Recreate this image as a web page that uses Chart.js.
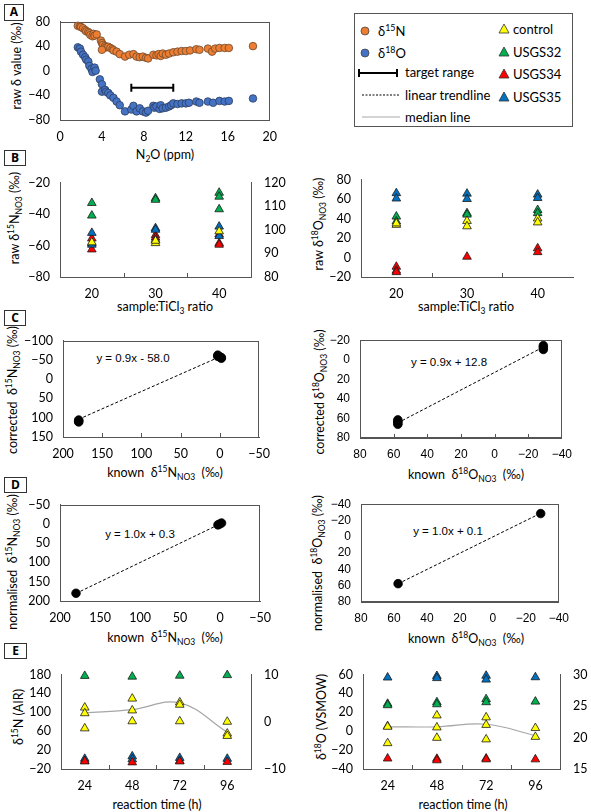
<!DOCTYPE html>
<html>
<head>
<meta charset="utf-8">
<script src="https://cdn.jsdelivr.net/npm/chart.js@4.4.1/dist/chart.umd.min.js"></script>
<style>
body{margin:0;background:#fff;width:591px;height:812px;position:relative;overflow:hidden;font-family:Lato,'Open Sans',sans-serif;color:#000}
canvas{position:absolute}
.t{position:absolute;transform:translate(-50%,-50%);white-space:nowrap;font-size:12.5px;line-height:1}
.r{transform:translate(-50%,-50%) rotate(-90deg)}
.eq{font-family:'Liberation Sans',Arial,sans-serif;font-size:11.5px}
.lab{position:absolute;border:1.5px solid #333;font:bold 12px 'Open Sans',sans-serif;text-align:center;line-height:14px;box-sizing:border-box}
sup,sub{font-size:0.68em;line-height:0}
.lg{position:absolute;font-size:13px;transform:translateY(-50%);white-space:nowrap}
#legend{position:absolute;left:354px;top:13px;width:219px;height:114px;border:1px solid #555;box-sizing:border-box}
</style>
</head>
<body>

<div class="lab" style="left:4px;top:4px;width:20px;height:17px">A</div>
<div class="lab" style="left:4px;top:150px;width:22px;height:16px">B</div>
<div class="lab" style="left:4px;top:310px;width:22px;height:16px">C</div>
<div class="lab" style="left:4px;top:477px;width:23px;height:16px">D</div>
<div class="lab" style="left:4px;top:643px;width:23px;height:16px">E</div>

<!-- legend -->
<div id="legend"></div>
<svg style="position:absolute;left:354px;top:13px" width="219" height="114">
  <circle cx="11" cy="18" r="4" fill="#ED7D31" stroke="#444" stroke-width="0.8"/>
  <circle cx="11" cy="40" r="4" fill="#4472C4" stroke="#444" stroke-width="0.8"/>
  <line x1="5" y1="60" x2="43" y2="60" stroke="#000" stroke-width="2"/>
  <line x1="5" y1="56" x2="5" y2="64" stroke="#000" stroke-width="2"/>
  <line x1="43" y1="56" x2="43" y2="64" stroke="#000" stroke-width="2"/>
  <line x1="8" y1="82" x2="46" y2="82" stroke="#000" stroke-width="1" stroke-dasharray="2,1.5"/>
  <line x1="8" y1="104" x2="46" y2="104" stroke="#aaa" stroke-width="1.2"/>
  <polygon points="150,11 155,20 145,20" fill="#FFFF00" stroke="#333" stroke-width="0.8"/>
  <polygon points="150,34 155,43 145,43" fill="#00B050" stroke="#333" stroke-width="0.8"/>
  <polygon points="150,56 155,65 145,65" fill="#FF0000" stroke="#333" stroke-width="0.8"/>
  <polygon points="150,79 155,88 145,88" fill="#0070C0" stroke="#333" stroke-width="0.8"/>
</svg>
<div class="lg" style="left:378px;top:31px">δ<sup>15</sup>N</div>
<div class="lg" style="left:378px;top:53px">δ<sup>18</sup>O</div>
<div class="lg" style="left:405px;top:72px">target range</div>
<div class="lg" style="left:405px;top:95px">linear trendline</div>
<div class="lg" style="left:405px;top:117px">median line</div>
<div class="lg" style="left:513px;top:29px">control</div>
<div class="lg" style="left:513px;top:52px">USGS32</div>
<div class="lg" style="left:513px;top:74px">USGS34</div>
<div class="lg" style="left:513px;top:97px">USGS35</div>

<!-- axis titles -->
<div class="t r" style="left:17px;top:66px">raw δ value (‰)</div>
<div class="t" style="left:165px;top:155px">N<sub>2</sub>O (ppm)</div>

<div class="t r" style="left:15px;top:218px">raw δ<sup>15</sup>N<sub>NO3</sub> (‰)</div>
<div class="t r" style="left:319px;top:224px">raw δ<sup>18</sup>O<sub>NO3</sub> (‰)</div>
<div class="t" style="left:165px;top:307px">sample:TiCl<sub>3</sub> ratio</div>
<div class="t" style="left:466px;top:307px">sample:TiCl<sub>3</sub> ratio</div>

<div class="t r" style="left:13px;top:390px">corrected&nbsp; δ<sup>15</sup>N<sub>NO3</sub> (‰)</div>
<div class="t r" style="left:320px;top:392px">corrected δ<sup>18</sup>O<sub>NO3</sub> (‰)</div>
<div class="t" style="left:165px;top:473px">known&nbsp; δ<sup>15</sup>N<sub>NO3</sub>&nbsp; (‰)</div>
<div class="t" style="left:466px;top:475px">known&nbsp; δ<sup>18</sup>O<sub>NO3</sub>&nbsp; (‰)</div>
<div class="t eq" style="left:133px;top:359px">y = 0.9x - 58.0</div>
<div class="t eq" style="left:449px;top:363px">y = 0.9x + 12.8</div>

<div class="t r" style="left:13px;top:562px">normalised&nbsp; δ<sup>15</sup>N<sub>NO3</sub> (‰)</div>
<div class="t r" style="left:318px;top:563px">normalised&nbsp; δ<sup>18</sup>O<sub>NO3</sub> (‰)</div>
<div class="t" style="left:165px;top:638px">known&nbsp; δ<sup>15</sup>N<sub>NO3</sub>&nbsp; (‰)</div>
<div class="t" style="left:466px;top:639px">known&nbsp; δ<sup>18</sup>O<sub>NO3</sub>&nbsp; (‰)</div>
<div class="t eq" style="left:140px;top:535px">y = 1.0x + 0.3</div>
<div class="t eq" style="left:448px;top:532px">y = 1.0x + 0.1</div>

<div class="t r" style="left:19px;top:717px">δ<sup>15</sup>N (AIR)</div>
<div class="t r" style="left:322px;top:717px">δ<sup>18</sup>O (VSMOW)</div>
<div class="t" style="left:157px;top:805px">reaction time (h)</div>
<div class="t" style="left:463px;top:805px">reaction time (h)</div>

<script>
// ---- A: raw delta vs N2O
const n2oN = [1.7,1.9,2.0,2.2,2.4,2.5,2.7,2.8,2.9,3.1,3.2,3.3,3.5,3.9,4.0,4.1,4.3,4.4,4.6,4.8,4.0,5.0,5.1,5.4,5.7,6.2,6.6,7.0,7.3,7.6,7.9,8.2,8.4,8.9,9.2,9.4,9.6,9.8,10.1,10.4,10.8,11.2,11.6,12.0,12.4,13.0,13.3,14.1,14.5,14.8,15.2,15.7,16.1,18.4];
const rawN  = [73,72,71,69,66,64,63,61,58,56,60,57,59,49,45,42,40,38,39,37,34,35,33,31,27,23,26,27,23,22,23,21,20,26,25,27,24,28,26,28,30,31,32,32,33,35,34,36,31,36,37,37,37,40];
const n2oO = [1.7,1.9,2.0,2.2,2.4,2.5,2.7,2.8,3.0,3.1,3.3,3.4,3.8,4.0,4.0,4.3,4.4,4.6,4.8,5.1,5.4,5.7,6.2,6.8,7.0,7.3,7.6,7.9,8.2,8.4,8.9,9.0,9.2,9.5,9.6,9.8,10.1,10.4,10.6,10.8,11.2,11.6,12.0,12.3,13.0,13.3,14.1,14.6,15.2,15.7,16.1,18.4];
const rawO  = [38,36,31,26,22,18,15,8,3,-2,5,0,-14,-22,-34,-31,-34,-36,-40,-44,-50,-56,-66,-63,-57,-66,-61,-66,-68,-65,-57,-60,-58,-62,-56,-61,-60,-58,-56,-53,-54,-53,-53,-52,-50,-52,-50,-52,-49,-50,-49,-45];
const targetX = [6.8, 10.8];
const targetY = [-27.5, -27.5];

// ---- B: raw values per sample:TiCl3 ratio
const ratios = [20, 30, 40];
const rawN_control = [[-58], [-58.5, -57], [-51]];
const rawN_usgs32  = [[-33, -41], [-30, -31], [-26.5, -29, -37]];
const rawN_usgs34  = [[-55.5, -62.5], [-53.5, -55], [-53, -58.5, -59.5]];
const rawN_usgs35  = [[-52, -58.5, -59.5], [-49, -50, -56.5], [-48, -54]];
const rawO_control = [[33.5, 35], [37.5, 32], [40, 36]];
const rawO_usgs32  = [[42, 37], [45.5, 44], [48.7, 45.5]];
const rawO_usgs34  = [[-9.5, -13.5, -15], [0.8], [9.4, 5.5]];
const rawO_usgs35  = [[66, 60.5], [65.5, 60], [64.5, 61]];

// ---- C: corrected vs known
const knownN_C = [180, 180, 180, 2.7, 2.7, -1.8, -1.8, 0.5];
const corrN    = [106, 109, 111, -62, -59, -56, -54, -58];
const trendCN_x = [180, -1.8];
const trendCN_y = [104, -59.6];
const knownO_C = [57.5, 57.5, 57.5, 57.5, -29, -29, -29];
const corrO    = [61.5, 63, 64.5, 66, -14.5, -12.5, -10.5];
const trendCO_x = [57.5, -29];
const trendCO_y = [64.5, -13];

// ---- D: normalised vs known
const knownN_D = [180, 2.7, -1.8, 0.5];
const normN    = [180, 2.7, -2, 0.5];
const trendDN_x = [180, -1.8];
const trendDN_y = [180.3, -1.5];
const knownO_D = [57.5, -29];
const normO    = [57.5, -28.5];
const trendDO_x = [57.5, -29];
const trendDO_y = [57.6, -28.9];

// ---- E: reaction time
const hours = [24, 48, 72, 96];
const eN_usgs32  = [[177], [175.5], [177.5], [178.7]];
const eN_usgs34  = [[-4], [-6], [-4], [-5]];
const eN_usgs35  = [[1.6, -3], [6.8, 0.4], [3.5, -3], [1.6]];
const eN_control = [[3.0, 1.8, -1.4], [4.9, 2.4, 0.1], [4.1, 3.6, 0.1], [0, -2.5, -3.0]];
const eN_median  = [1.9, 2.55, 4.0, -2.2];
const eO_usgs35  = [[56.8], [58.4, 56.2], [58.7, 54.6], [57.1]];
const eO_usgs32  = [[29, 27.5], [30.7, 28.5], [33.9, 30.7], [31.3]];
const eO_usgs34  = [[-28.9], [-29.2, -30.8], [-28.9, -29.8], [-29.8]];
const eO_control = [[21.8, 21.7, 19.1], [23.5, 21.6, 19.95], [23.2, 22.0, 19.7], [21.5, 20.1]];
const eO_median  = [21.7, 21.7, 22.1, 20.3];

const AX = '#555';
const YELLOW = '#FFFF00', GREEN = '#00B050', RED = '#FF0000', TBLUE = '#0070C0';
const ORANGE = '#ED7D31', CBLUE = '#4472C4';

Chart.defaults.animation = false;
Chart.defaults.plugins.legend.display = false;
Chart.defaults.plugins.tooltip.enabled = false;

function pts(xs, ys) { return xs.map((x, i) => ({x: x, y: ys[i]})); }
function catPts(cats, groups) { return groups.flatMap((g, i) => g.map(y => ({x: cats[i], y: y}))); }
function fmt(v) { return v < 0 ? '\u2212' + Math.abs(v) : String(v); }

function tri(color, data, axis) {
    return {data: data, yAxisID: axis || 'y', pointStyle: 'triangle', pointRadius: 5, clip: false,
        backgroundColor: color, borderColor: '#1a1a1a', borderWidth: 0.8,
        pointBackgroundColor: color, pointBorderColor: '#1a1a1a', pointBorderWidth: 0.8};
}
function dot(color, data, r, border) {
    return {data: data, pointStyle: 'circle', pointRadius: r, clip: false,
        backgroundColor: color, pointBackgroundColor: color,
        pointBorderColor: border, pointBorderWidth: 0.8};
}
function trend(data) {
    return {data: data, showLine: true, borderColor: '#000', borderWidth: 1,
        borderDash: [3, 2], pointRadius: 0, order: 5};
}
function median(data) {
    return {data: data, yAxisID: 'y2', showLine: true, borderColor: '#a6a6a6',
        borderWidth: 1.2, tension: 0.4, pointRadius: 0, order: 5};
}

// box around plot area
const framePlugin = {
    id: 'frame',
    beforeDatasetsDraw(chart, args, opts) {
        if (!opts.on) return;
        const a = chart.chartArea, ctx = chart.ctx;
        ctx.save();
        ctx.strokeStyle = AX;
        ctx.lineWidth = 1;
        ctx.strokeRect(Math.round(a.left) + 0.5, Math.round(a.top) + 0.5,
            Math.round(a.width) - 1, Math.round(a.height) - 1);
        ctx.restore();
    }
};
// small tick marks pointing into the plot from the x axis
const inTickPlugin = {
    id: 'inTicks',
    afterDraw(chart, args, opts) {
        if (!opts.values) return;
        const ctx = chart.ctx, sx = chart.scales.x, b = Math.round(chart.chartArea.bottom);
        ctx.save();
        ctx.strokeStyle = AX;
        ctx.lineWidth = 1;
        opts.values.forEach(v => {
            const px = Math.round(sx.getPixelForValue(v)) + 0.5;
            ctx.beginPath(); ctx.moveTo(px, b); ctx.lineTo(px, b - 4); ctx.stroke();
        });
        ctx.restore();
    }
};

function axis(o, extra) {
    return Object.assign({
        type: 'linear', min: o.min, max: o.max, reverse: !!o.reverse,
        afterBuildTicks: s => { s.ticks = o.ticks.map(v => ({value: v})); },
        grid: {display: false, drawTicks: false},
        border: {display: true, color: AX, width: 1}
    }, extra);
}

function panel(box, o) {
    const L = 52, T = 10, B = 26, R = o.y2 ? 42 : 14;
    const cv = document.createElement('canvas');
    cv.width = box.w + L + R;
    cv.height = box.h + T + B;
    cv.style.left = (box.l - L) + 'px';
    cv.style.top = (box.t - T) + 'px';
    document.body.appendChild(cv);
    const font = {family: o.font || 'Lato', size: o.font ? 12 : 12.5};
    const scales = {
        x: axis(o.x, {position: 'bottom', afterFit: s => { s.height = B; },
            ticks: {padding: 9, color: '#000', font: font, maxRotation: 0, autoSkip: false, callback: fmt}}),
        y: axis(o.y, {position: 'left', afterFit: s => { s.width = L; },
            ticks: {padding: 10, color: '#000', font: font, autoSkip: false, callback: fmt}})
    };
    if (o.y2) {
        scales.y2 = axis(o.y2, {position: 'right', afterFit: s => { s.width = R; },
            ticks: {padding: 13, color: '#000', font: font, autoSkip: false, callback: fmt}});
    }
    new Chart(cv, {
        type: 'scatter',
        data: {datasets: o.datasets},
        options: {
            responsive: false,
            devicePixelRatio: 1,
            layout: {padding: {top: T, right: o.y2 ? 0 : R, left: 0, bottom: 0}},
            scales: scales,
            plugins: {frame: {on: !!o.frame}, inTicks: {values: o.inTicks}}
        },
        plugins: [framePlugin, inTickPlugin]
    });
}

// A
panel({l: 60, t: 14, w: 212, h: 106}, {
    frame: true,
    x: {min: 0, max: 20, ticks: [0, 4, 8, 12, 16, 20]},
    y: {min: -80, max: 80, ticks: [-80, -40, 0, 40, 80]},
    datasets: [
        dot(ORANGE, pts(n2oN, rawN), 3.8, '#6b4a30'),
        dot(CBLUE, pts(n2oO, rawO), 3.8, '#2c3e5e'),
        {data: pts(targetX, targetY), showLine: true, borderColor: '#000', borderWidth: 2,
         pointStyle: 'line', pointRotation: 90, pointRadius: 4,
         pointBorderColor: '#000', pointBorderWidth: 2}
    ]
});

// B left
panel({l: 60, t: 172, w: 191, h: 105}, {
    x: {min: 15, max: 45, ticks: ratios},
    y: {min: -80, max: -20, ticks: [-80, -60, -40, -20]},
    y2: {min: 80, max: 120, ticks: [80, 90, 100, 110, 120]},
    inTicks: [25, 35],
    datasets: [
        tri(YELLOW, catPts(ratios, rawN_control)),
        tri(GREEN, catPts(ratios, rawN_usgs32)),
        tri(TBLUE, catPts(ratios, rawN_usgs35)),
        tri(RED, catPts(ratios, rawN_usgs34))
    ]
});

// B right
panel({l: 361, t: 172, w: 212, h: 105}, {
    x: {min: 15, max: 45, ticks: ratios},
    y: {min: -20, max: 80, ticks: [-20, 0, 20, 40, 60, 80]},
    inTicks: [25, 35],
    datasets: [
        tri(YELLOW, catPts(ratios, rawO_control)),
        tri(GREEN, catPts(ratios, rawO_usgs32)),
        tri(TBLUE, catPts(ratios, rawO_usgs35)),
        tri(RED, catPts(ratios, rawO_usgs34))
    ]
});

// C left
panel({l: 63, t: 333, w: 202, h: 104}, {
    frame: true,
    x: {min: -50, max: 200, reverse: true, ticks: [200, 150, 100, 50, 0, -50]},
    y: {min: -100, max: 150, reverse: true, ticks: [-100, -50, 0, 50, 100, 150]},
    inTicks: [150, 100, 50, 0],
    datasets: [
        trend(pts(trendCN_x, trendCN_y)),
        dot('#000', pts(knownN_C, corrN), 4.3, '#000')
    ]
});

// C right
panel({l: 360, t: 333, w: 207, h: 105}, {
    frame: true, font: 'Liberation Sans',
    x: {min: -40, max: 80, reverse: true, ticks: [80, 60, 40, 20, 0, -20, -40]},
    y: {min: -20, max: 80, reverse: true, ticks: [-20, 0, 20, 40, 60, 80]},
    inTicks: [60, 40, 20, 0, -20],
    datasets: [
        trend(pts(trendCO_x, trendCO_y)),
        dot('#000', pts(knownO_C, corrO), 4.3, '#000')
    ]
});

// D left
panel({l: 60, t: 497, w: 206, h: 104}, {
    frame: true,
    x: {min: -50, max: 200, reverse: true, ticks: [200, 150, 100, 50, 0, -50]},
    y: {min: -50, max: 200, reverse: true, ticks: [-50, 0, 50, 100, 150, 200]},
    datasets: [
        trend(pts(trendDN_x, trendDN_y)),
        dot('#000', pts(knownN_D, normN), 4.3, '#000')
    ]
});

// D right
panel({l: 361, t: 497, w: 203, h: 105}, {
    frame: true, font: 'Liberation Sans',
    x: {min: -40, max: 80, reverse: true, ticks: [80, 60, 40, 20, 0, -20, -40]},
    y: {min: -40, max: 80, reverse: true, ticks: [-40, -20, 0, 20, 40, 60, 80]},
    datasets: [
        trend(pts(trendDO_x, trendDO_y)),
        dot('#000', pts(knownO_D, normO), 4.3, '#000')
    ]
});

// E left
panel({l: 61, t: 664, w: 190, h: 105}, {
    x: {min: 12, max: 108, ticks: hours},
    y: {min: -20, max: 180, ticks: [-20, 20, 60, 100, 140, 180]},
    y2: {min: -10, max: 10, ticks: [-10, 0, 10]},
    inTicks: [36, 60, 84],
    datasets: [
        median(pts(hours, eN_median)),
        tri(YELLOW, catPts(hours, eN_control), 'y2'),
        tri(GREEN, catPts(hours, eN_usgs32)),
        tri(RED, catPts(hours, eN_usgs34)),
        tri(TBLUE, catPts(hours, eN_usgs35))
    ]
});

// E right
panel({l: 363, t: 664, w: 197, h: 105}, {
    x: {min: 12, max: 108, ticks: hours},
    y: {min: -40, max: 60, ticks: [-40, -20, 0, 20, 40, 60]},
    y2: {min: 15, max: 30, ticks: [15, 20, 25, 30]},
    inTicks: [36, 60, 84],
    datasets: [
        median(pts(hours, eO_median)),
        tri(YELLOW, catPts(hours, eO_control), 'y2'),
        tri(GREEN, catPts(hours, eO_usgs32)),
        tri(RED, catPts(hours, eO_usgs34)),
        tri(TBLUE, catPts(hours, eO_usgs35))
    ]
});
</script>
</body>
</html>
